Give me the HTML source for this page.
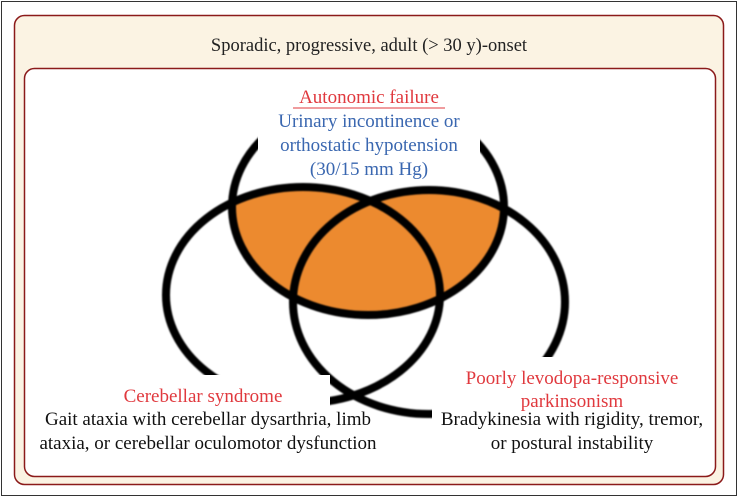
<!DOCTYPE html>
<html><head><meta charset="utf-8"><style>
html,body{margin:0;padding:0;background:#fff;}
svg{display:block;font-family:"Liberation Serif",serif;}
</style></head><body>
<svg width="738" height="497" viewBox="0 0 738 497" xmlns="http://www.w3.org/2000/svg">
<defs>
<filter id="b" x="-10%" y="-10%" width="120%" height="120%"><feGaussianBlur stdDeviation="0.8"/></filter>
<clipPath id="tc"><ellipse cx="368" cy="207" rx="136" ry="108"/></clipPath>
</defs>
<rect x="1.5" y="1.5" width="735" height="494" fill="#fff" stroke="#333" stroke-width="1"/>
<rect x="14.5" y="15.5" width="709" height="469" rx="10" fill="#fbf3e3" stroke="#8b1a1a" stroke-width="1.5"/>
<rect x="24.5" y="68.5" width="691" height="408" rx="10" fill="#fff" stroke="#8b1a1a" stroke-width="1.5"/>
<text x="369" y="51" font-size="18.5" text-anchor="middle" fill="#222">Sporadic, progressive, adult (&gt; 30 y)-onset</text>
<g clip-path="url(#tc)" fill="#ec8a2f">
<ellipse cx="303" cy="295" rx="137" ry="108"/>
<ellipse cx="429" cy="302" rx="136" ry="112"/>
</g>
<g fill="none" stroke="#000" stroke-width="8" filter="url(#b)">
<ellipse cx="368" cy="207" rx="136" ry="108"/>
<ellipse cx="303" cy="295" rx="137" ry="108"/>
<ellipse cx="429" cy="302" rx="136" ry="112"/>
</g>
<rect x="258" y="82" width="222" height="96" fill="#fff"/>
<rect x="30" y="375" width="300" height="85" fill="#fff"/>
<rect x="330" y="408" width="30" height="52" fill="#fff"/>
<rect x="432" y="357" width="280" height="105" fill="#fff"/>
<g font-size="19" text-anchor="middle">
<text x="369" y="103" fill="#e0393e">Autonomic failure</text>
<line x1="293" y1="108" x2="445" y2="108" stroke="#e0393e" stroke-width="1"/>
<text x="369" y="127" fill="#3a67b0">Urinary incontinence or</text>
<text x="369" y="151" fill="#3a67b0">orthostatic hypotension</text>
<text x="369" y="175" fill="#3a67b0">(30/15 mm Hg)</text>
<text x="203" y="402" fill="#e0393e">Cerebellar syndrome</text>
<text x="208" y="425" fill="#111">Gait ataxia with cerebellar dysarthria, limb</text>
<text x="208" y="449" fill="#111">ataxia, or cerebellar oculomotor dysfunction</text>
<text x="572" y="384" fill="#e0393e">Poorly levodopa-responsive</text>
<text x="572" y="407" fill="#e0393e">parkinsonism</text>
<text x="572" y="425" fill="#111">Bradykinesia with rigidity, tremor,</text>
<text x="572" y="449" fill="#111">or postural instability</text>
</g>
</svg>
</body></html>
